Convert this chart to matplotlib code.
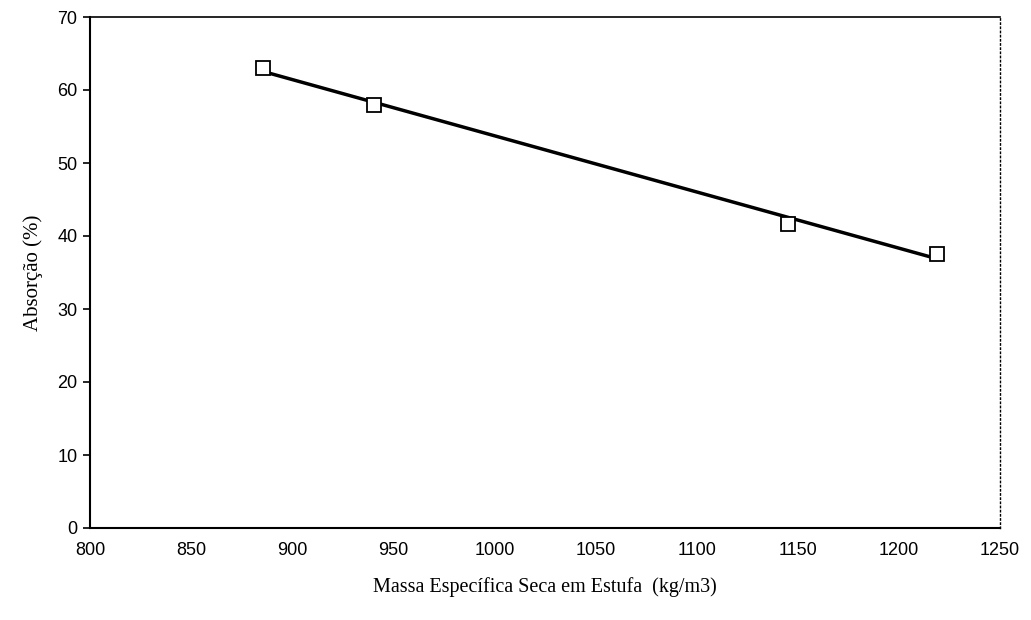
import numpy as np
import matplotlib
matplotlib.use('Agg')
import matplotlib.pyplot as plt

# dados
massa = np.array([885.5, 940.5, 1145.0, 1219.0])
absorcao = np.array([63.0, 58.0, 41.7, 37.6])
xticks = [800, 850, 900, 950, 1000, 1050, 1100, 1150, 1200, 1250]
yticks = [0, 10, 20, 30, 40, 50, 60, 70]

fig = plt.figure(figsize=(10.31, 6.2), dpi=100)
ax = fig.add_axes([90 / 1031, 1 - 528 / 620, 910 / 1031, 511 / 620])

# reta de regressao
a, b = np.polyfit(massa, absorcao, 1)
xr = np.array([massa.min(), massa.max()])
ax.plot(xr, a * xr + b, color='black', lw=2.5, zorder=2)
ax.plot(massa, absorcao, ls='None', marker='s', ms=10, mfc='white',
        mec='black', mew=1.3, zorder=3)

ax.set_xlim(800, 1250)
ax.set_ylim(0, 70)
ax.set_xticks(xticks)
ax.set_yticks(yticks)
ax.tick_params(axis='both', labelsize=13, colors='black')
ax.tick_params(axis='x', length=0, pad=10)
ax.tick_params(axis='y', length=5, width=1.2, pad=4)
for lab in ax.get_xticklabels() + ax.get_yticklabels():
    lab.set_family('Liberation Sans')

ax.spines['left'].set_linewidth(1.5)
ax.spines['bottom'].set_linewidth(1.5)
ax.spines['top'].set_linewidth(1.2)
ax.spines['right'].set_linewidth(1.0)
ax.spines['right'].set_linestyle((0, (1, 2)))

ax.set_xlabel('Massa Específica Seca em Estufa  (kg/m3)', family='Liberation Serif',
              fontsize=14.5, labelpad=13)
ax.set_ylabel('Absorção (%)', family='Liberation Serif', fontsize=15, labelpad=10)

fig.savefig('out.png', dpi=100)
